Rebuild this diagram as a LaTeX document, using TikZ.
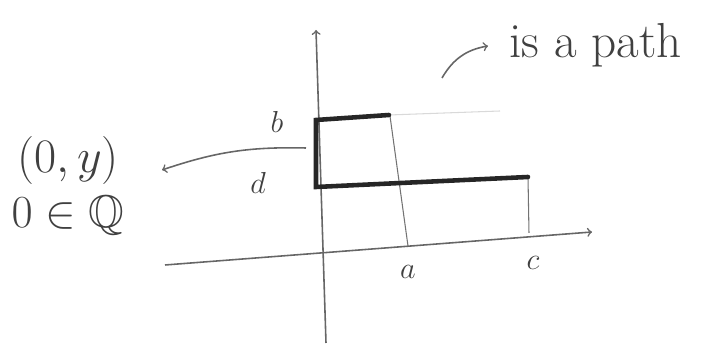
\documentclass[tikz,border=0pt]{standalone}
\usepackage{xcolor}
\usepackage{tikz}
\usepackage{amssymb}

\begin{document}
\begin{tikzpicture}[
    pencil/.style={
        draw=black!60,
        line width=0.9pt
    },
    thin pencil/.style={
        draw=black!55,
        line width=0.6pt
    },
    path line/.style={
        draw=black!85,
        line width=2.6pt,
        line cap=round
    },
    arrow/.style={
        ->,
        pencil
    },
    label/.style={
        text=black!75,
        font=\LARGE
    }
]

\useasboundingbox (0,0) rectangle (14.02,6.94);

% axes
\coordinate (xstart) at (3.30,1.64);
\coordinate (xend) at (11.84,2.30);
\coordinate (ystart) at (6.52,0.08);
\coordinate (yend) at (6.32,6.34);

\draw[arrow] (xstart) -- (xend);
\draw[arrow] (ystart) -- (yend);

% corners of the path
\coordinate (pb) at (6.32,4.54);
\coordinate (pd) at (6.32,3.20);
\coordinate (pbend) at (7.78,4.64);
\coordinate (pcend) at (10.56,3.40);

% dropped lines
\coordinate (atop) at (7.80,4.62);
\coordinate (afoot) at (8.16,2.02);
\coordinate (cfoot) at (10.58,2.28);
\coordinate (faint) at (10.00,4.72);

\draw[thin pencil] (atop) -- (afoot);
\draw[thin pencil] (pcend) -- (cfoot);
\draw[draw=black!15, line width=0.6pt] (pbend) -- (faint);

\draw[path line] (pbend) -- (pb) -- (pd) -- (pcend);

% tick labels
\node[label] (b) at (5.54,4.50) {$b$};
\node[label] (d) at (5.16,3.28) {$d$};
\node[label] (a) at (8.16,1.50) {$a$};
\node[label] (c) at (10.66,1.68) {$c$};

% left note
\node[label, font=\Huge, scale=1.1, inner sep=1pt] (point) at (1.36,3.74) {$(0,y)$};
\node[label, font=\Huge, scale=1.05, inner sep=1pt] (rational) at (1.36,2.62) {$0\in\mathbb{Q}$};

\coordinate (axisnote) at (6.12,3.98);
\coordinate (pointnote) at (3.24,3.54);
\draw[arrow] (axisnote) to[bend right=10] (pointnote);

% path note
\node[label, font=\huge, scale=1.35, anchor=west] (pathtext) at (10.02,6.04) {is a path};
\coordinate (curvestart) at (8.84,5.38);
\coordinate (curveend) at (9.76,6.02);
\draw[arrow] (curvestart) to[bend left=25] (curveend);

\end{tikzpicture}
\end{document}
